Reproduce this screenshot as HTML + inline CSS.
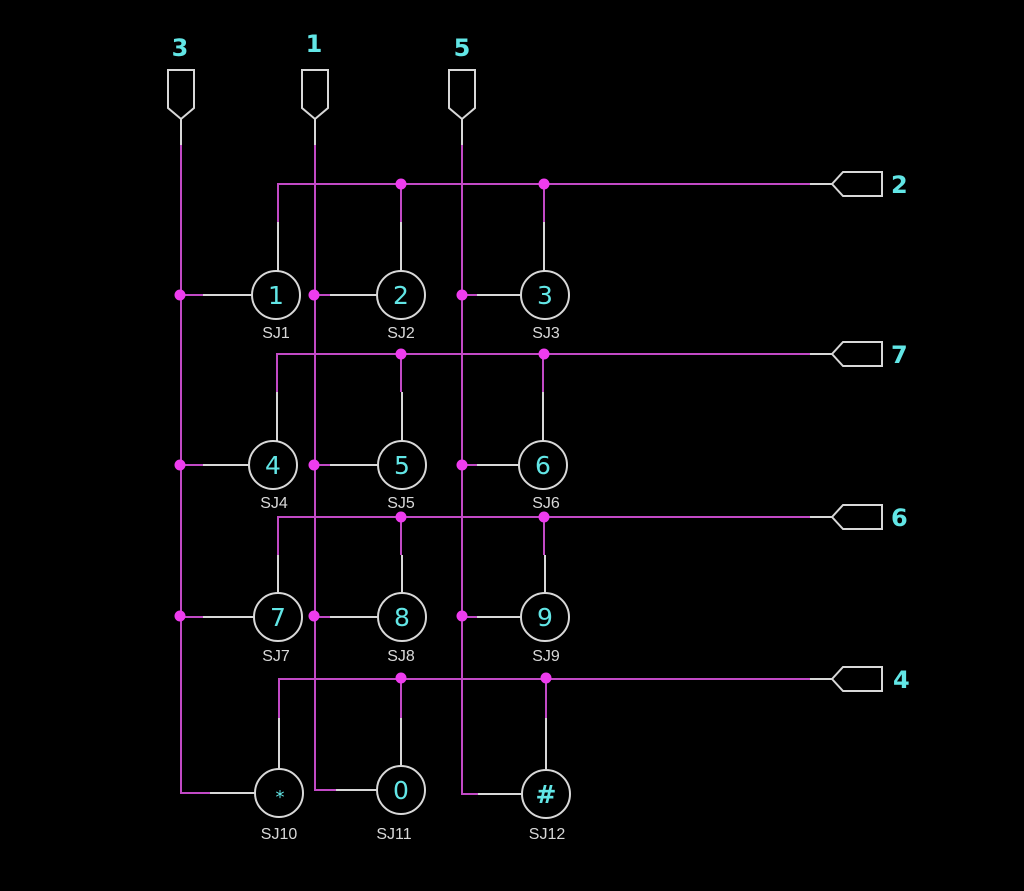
<!DOCTYPE html>
<html><head><meta charset="utf-8"><style>
html,body{margin:0;padding:0;background:#000;}
svg{display:block}
.m{stroke:#c24ac6;stroke-width:2;fill:none}
.w{stroke:#d8d8d8;stroke-width:2;fill:none}
.d{fill:#ee3cee}
.n{fill:#62e6e6;font-family:"DejaVu Sans","Liberation Sans",sans-serif;font-size:25px;text-anchor:middle}
.pl{fill:#62e6e6;font-family:"DejaVu Sans","Liberation Sans",sans-serif;font-size:24px;font-weight:bold}
.s{fill:#d8d8d8;font-family:"Liberation Sans",sans-serif;font-size:16px;text-anchor:middle}
</style></head><body>
<svg width="1024" height="891" viewBox="0 0 1024 891">
<!-- top ports -->
<g class="w">
<path d="M168 70 H194 V108 L181 119 L168 108 Z M181 119 V145"/>
<path d="M302 70 H328 V108 L315 119 L302 108 Z M315 119 V145"/>
<path d="M449 70 H475 V108 L462 119 L449 108 Z M462 119 V145"/>
</g>
<text class="pl" x="180" y="56" text-anchor="middle">3</text>
<text class="pl" x="314" y="52" text-anchor="middle">1</text>
<text class="pl" x="462" y="56" text-anchor="middle">5</text>
<!-- columns -->
<path class="m" d="M181 145 V793 H210"/>
<path class="m" d="M315 145 V790 H336"/>
<path class="m" d="M462 145 V794 H478"/>
<g class="w">
<path d="M210 793 H255"/><path d="M336 790 H377"/><path d="M478 794 H522"/>
</g>
<!-- right ports -->
<g class="w">
<path d="M810 184 H832 L843 172 H882 V196 H843 L832 184"/>
<path d="M810 354 H832 L843 342 H882 V366 H843 L832 354"/>
<path d="M810 517 H832 L843 505 H882 V529 H843 L832 517"/>
<path d="M810 679 H832 L843 667 H882 V691 H843 L832 679"/>
</g>
<text class="pl" x="891" y="193">2</text>
<text class="pl" x="891" y="363">7</text>
<text class="pl" x="891" y="526">6</text>
<text class="pl" x="893" y="688">4</text>
<!-- buses -->
<path class="m" d="M278 222 V184 H810"/>
<path class="m" d="M277 392 V354 H810"/>
<path class="m" d="M278 555 V517 H810"/>
<path class="m" d="M279 718 V679 H810"/>
<g class="m">
<path d="M401 184 V222"/><path d="M544 184 V222"/>
<path d="M401 354 V392"/><path d="M543 354 V392"/>
<path d="M401 517 V555"/><path d="M544 517 V555"/>
<path d="M401 679 V718"/><path d="M546 679 V718"/>
</g>
<g class="w">
<path d="M278 222 V271"/><path d="M401 222 V271"/><path d="M544 222 V271"/>
<path d="M277 392 V441"/><path d="M402 392 V441"/><path d="M543 392 V441"/>
<path d="M278 555 V593"/><path d="M402 555 V593"/><path d="M545 555 V593"/>
<path d="M279 718 V769"/><path d="M401 718 V766"/><path d="M546 718 V770"/>
</g>
<!-- horizontal stubs from columns -->
<g class="m">
<path d="M181 295 H203"/><path d="M315 295 H330"/><path d="M462 295 H477"/>
<path d="M181 465 H203"/><path d="M315 465 H330"/><path d="M462 465 H477"/>
<path d="M181 617 H203"/><path d="M315 617 H330"/><path d="M462 617 H477"/>
</g>
<g class="w">
<path d="M203 295 H252"/><path d="M330 295 H377"/><path d="M477 295 H521"/>
<path d="M203 465 H249"/><path d="M330 465 H378"/><path d="M477 465 H519"/>
<path d="M203 617 H254"/><path d="M330 617 H378"/><path d="M477 617 H521"/>
</g>
<!-- circles -->
<g class="w">
<circle cx="276" cy="295" r="24"/><circle cx="401" cy="295" r="24"/><circle cx="545" cy="295" r="24"/>
<circle cx="273" cy="465" r="24"/><circle cx="402" cy="465" r="24"/><circle cx="543" cy="465" r="24"/>
<circle cx="278" cy="617" r="24"/><circle cx="402" cy="617" r="24"/><circle cx="545" cy="617" r="24"/>
<circle cx="279" cy="793" r="24"/><circle cx="401" cy="790" r="24"/><circle cx="546" cy="794" r="24"/>
</g>
<g class="n">
<text x="276" y="304">1</text><text x="401" y="304">2</text><text x="545" y="304">3</text>
<text x="273" y="474">4</text><text x="402" y="474">5</text><text x="543" y="474">6</text>
<text x="278" y="626">7</text><text x="402" y="626">8</text><text x="545" y="626">9</text>
<text x="280" y="803" style="font-size:18px">*</text><text x="401" y="799">0</text><text x="546" y="803" style="font-weight:bold">#</text>
</g>
<g class="s">
<text x="276" y="338">SJ1</text><text x="401" y="338">SJ2</text><text x="546" y="338">SJ3</text>
<text x="274" y="508">SJ4</text><text x="401" y="508">SJ5</text><text x="546" y="508">SJ6</text>
<text x="276" y="661">SJ7</text><text x="401" y="661">SJ8</text><text x="546" y="661">SJ9</text>
<text x="279" y="839">SJ10</text><text x="394" y="839">SJ11</text><text x="547" y="839">SJ12</text>
</g>
<!-- dots -->
<g class="d">
<circle cx="180" cy="295" r="5.5"/><circle cx="314" cy="295" r="5.5"/><circle cx="462" cy="295" r="5.5"/>
<circle cx="180" cy="465" r="5.5"/><circle cx="314" cy="465" r="5.5"/><circle cx="462" cy="465" r="5.5"/>
<circle cx="180" cy="616" r="5.5"/><circle cx="314" cy="616" r="5.5"/><circle cx="462" cy="616" r="5.5"/>
<circle cx="401" cy="184" r="5.5"/><circle cx="544" cy="184" r="5.5"/>
<circle cx="401" cy="354" r="5.5"/><circle cx="544" cy="354" r="5.5"/>
<circle cx="401" cy="517" r="5.5"/><circle cx="544" cy="517" r="5.5"/>
<circle cx="401" cy="678" r="5.5"/><circle cx="546" cy="678" r="5.5"/>
</g>
</svg>
</body></html>
